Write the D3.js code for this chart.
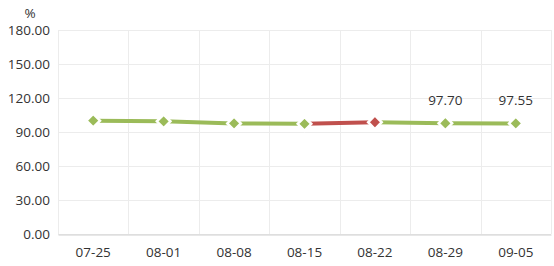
<!DOCTYPE html>
<html>
<head>
<meta charset="utf-8">
<script src="https://cdn.jsdelivr.net/npm/d3@7"></script>
<style>
  body { margin: 0; background: #fff; }
  text { font-family: "Open Sans", "Noto Sans", sans-serif; }
</style>
</head>
<body>
<div id="chart"></div>
<script>
const dates = ["07-25", "08-01", "08-08", "08-15", "08-22", "08-29", "09-05"];
const values = [100.0, 99.4, 97.6, 97.2, 98.6, 97.70, 97.55];
const pointColors = ["green", "green", "green", "green", "red", "green", "green"];
const labeled = [false, false, false, false, false, true, true];
const yTicks = [0, 30, 60, 90, 120, 150, 180];

const colors = { green: "#9bbb59", red: "#c0504d" };

const width = 554, height = 266;
const margin = { top: 30, right: 3, bottom: 32, left: 58 };

const svg = d3.select("#chart").append("svg")
  .attr("width", width)
  .attr("height", height);

const x = d3.scaleBand()
  .domain(dates)
  .range([margin.left, width - margin.right]);

const y = d3.scaleLinear()
  .domain([0, 180])
  .range([height - margin.bottom, margin.top]);

const cx = d => x(d) + x.bandwidth() / 2;

// grid
const grid = svg.append("g");
grid.selectAll(".hgrid")
  .data(yTicks)
  .join("line")
  .attr("x1", margin.left).attr("x2", width - margin.right)
  .attr("y1", d => Math.round(y(d)) + 0.5).attr("y2", d => Math.round(y(d)) + 0.5)
  .attr("stroke", "#ececec");

const bounds = dates.map(d => x(d)).concat([x(dates[dates.length - 1]) + x.bandwidth()]);
grid.selectAll(".vgrid")
  .data(bounds)
  .join("line")
  .attr("x1", d => Math.round(d) + 0.5).attr("x2", d => Math.round(d) + 0.5)
  .attr("y1", margin.top).attr("y2", y(0))
  .attr("stroke", "#ececec");

// x axis
const xAxis = svg.append("g")
  .attr("transform", `translate(0,${Math.round(y(0)) + 0.5})`)
  .call(d3.axisBottom(x).tickSize(0).tickPadding(13));
xAxis.select(".domain").attr("stroke", "#d0d0d0");
xAxis.selectAll("text").attr("fill", "#333").style("font-size", "13.5px");

// y axis
const yAxis = svg.append("g")
  .attr("transform", `translate(${margin.left},0)`)
  .call(d3.axisLeft(y).tickValues(yTicks).tickFormat(d3.format(".2f")).tickSize(0).tickPadding(8));
yAxis.select(".domain").remove();
yAxis.selectAll("text").attr("fill", "#333").style("font-size", "13.5px");

svg.append("text")
  .attr("x", 30).attr("y", 18)
  .attr("text-anchor", "middle")
  .attr("fill", "#333")
  .style("font-size", "13.5px")
  .text("%");

// line segments, colored by the end point
const segs = d3.range(1, dates.length).map(i => ({ a: i - 1, b: i }));
svg.append("g").selectAll("line")
  .data(segs)
  .join("line")
  .attr("x1", s => cx(dates[s.a])).attr("y1", s => y(values[s.a]))
  .attr("x2", s => cx(dates[s.b])).attr("y2", s => y(values[s.b]))
  .attr("stroke", s => colors[pointColors[s.b]])
  .attr("stroke-width", 4);

// diamond markers
const r = 6.8;
svg.append("g").selectAll("path")
  .data(dates)
  .join("path")
  .attr("d", `M0,${-r}L${r},0L0,${r}L${-r},0Z`)
  .attr("transform", (d, i) => `translate(${cx(d)},${y(values[i])})`)
  .attr("fill", (d, i) => colors[pointColors[i]])
  .attr("stroke", "#fff")
  .attr("stroke-width", 2.5);

// value labels
svg.append("g").selectAll("text")
  .data(dates.filter((d, i) => labeled[i]))
  .join("text")
  .attr("x", d => cx(d))
  .attr("y", d => y(values[dates.indexOf(d)]) - 18)
  .attr("text-anchor", "middle")
  .attr("fill", "#333")
  .style("font-size", "13.5px")
  .text(d => values[dates.indexOf(d)].toFixed(2));
</script>
</body>
</html>
